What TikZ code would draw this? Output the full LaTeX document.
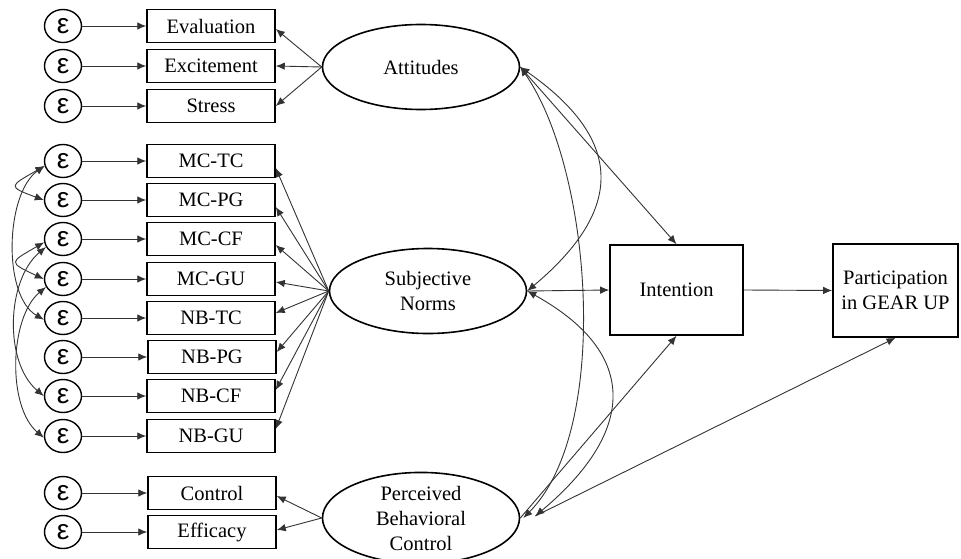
\documentclass[tikz,border=0pt]{standalone}
\usepackage{fontspec}
\setmainfont{Liberation Serif}
\newfontfamily\epsfont{Liberation Sans}
\usetikzlibrary{shapes.geometric,arrows.meta}
\begin{document}
\begin{tikzpicture}[x=1pt,y=1pt,
  every node/.style={font=\fontsize{20.5}{25}\selectfont},
  obs/.style={draw, line width=1.5pt, minimum width=128pt, minimum height=33pt, inner sep=0pt},
  err/.style={draw, ellipse, line width=1.4pt, minimum width=37pt, minimum height=33pt, inner sep=0pt, font=\epsfont\fontsize{28}{28}\selectfont},
  lat/.style={draw, ellipse, line width=1.6pt, minimum width=197pt, minimum height=85pt, inner sep=0pt, align=center},
  big/.style={draw, line width=1.6pt, inner sep=0pt, align=center},
  arr/.style={-{Latex[length=9pt,width=7.5pt]}, line width=0.9pt, draw=black!80},
  cov/.style={{Latex[length=9pt,width=7.5pt]}-{Latex[length=9pt,width=7.5pt]}, line width=0.9pt, draw=black!80}
]
\useasboundingbox (0,0) rectangle (961,-559);

% observed indicators
\node[obs] (a1) at (211,-26) {Evaluation};
\node[obs] (a2) at (211,-66) {Excitement};
\node[obs] (a3) at (211,-106) {Stress};
\node[obs] (m1) at (211,-161) {MC-TC};
\node[obs] (m2) at (211,-200) {MC-PG};
\node[obs] (m3) at (211,-239) {MC-CF};
\node[obs] (m4) at (211,-279) {MC-GU};
\node[obs] (m5) at (211,-318) {NB-TC};
\node[obs] (m6) at (212,-357) {NB-PG};
\node[obs] (m7) at (211,-396) {NB-CF};
\node[obs] (m8) at (211,-436) {NB-GU};
\node[obs] (p1) at (212,-493) {Control};
\node[obs] (p2) at (212,-532) {Efficacy};

% error terms
\foreach \n/\y in {ea1/26,ea2/66,ea3/106,e1/161,e2/200,e3/239,e4/279,e5/318,e6/357,e7/396,e8/436,ep1/493,ep2/532}
  \node[err] (\n) at (63,-\y) {ε};

% latent variables
\node[lat] (att) at (421,-67) {Attitudes};
\node[lat] (sn) at (428,-291) {Subjective\\Norms};
\node[lat] (pbc) at (421,-518) {Perceived\\Behavioral\\Control};

\node[big, minimum width=133pt, minimum height=90pt] (int) at (676.5,-290) {Intention};
\node[big, minimum width=125pt, minimum height=93pt] (part) at (895.5,-290.5) {Participation\\in GEAR UP};

% error -> indicator
\draw[arr] (ea1) -- (a1);
\draw[arr] (ea2) -- (a2);
\draw[arr] (ea3) -- (a3);
\draw[arr] (e1) -- (m1);
\draw[arr] (e2) -- (m2);
\draw[arr] (e3) -- (m3);
\draw[arr] (e4) -- (m4);
\draw[arr] (e5) -- (m5);
\draw[arr] (e6) -- (m6);
\draw[arr] (e7) -- (m7);
\draw[arr] (e8) -- (m8);
\draw[arr] (ep1) -- (p1);
\draw[arr] (ep2) -- (p2);

% loadings
\draw[arr] (att.west) -- ([yshift=-3pt]a1.east);
\draw[arr] (att.west) -- (a2.east);
\draw[arr] (att.west) -- (a3.east);
\draw[arr] (sn.west) -- ([yshift=-7pt]m1.east);
\draw[arr] (sn.west) -- ([yshift=-7pt]m2.east);
\draw[arr] (sn.west) -- ([yshift=-6pt]m3.east);
\draw[arr] (sn.west) -- ([yshift=-3pt]m4.east);
\draw[arr] (sn.west) -- ([yshift=5pt]m5.east);
\draw[arr] (sn.west) -- ([yshift=5pt]m6.east);
\draw[arr] (sn.west) -- ([yshift=6pt]m7.east);
\draw[arr] (sn.west) -- ([yshift=7pt]m8.east);
\draw[arr] (pbc.west) -- ([yshift=-3pt]p1.east);
\draw[arr] (pbc.west) -- ([yshift=2pt]p2.east);

% structural paths
\draw[arr] (att.east) -- (int.north);
\draw[arr] (sn.east) -- (int.west);
\draw[arr] (pbc.east) -- (int.south);
\draw[arr] ([xshift=15pt,yshift=2pt]pbc.east) -- (part.south);
\draw[arr] (int.east) -- (part.west);

% latent covariances
\draw[cov] (att.east) to[out=-35,in=40,distance=127pt] (sn.east);
\draw[cov] (att.east) to[out=-55,in=45,distance=125pt] ([xshift=3pt]pbc.east);
\draw[cov] (sn.east) to[out=-29,in=40,distance=130pt] ([xshift=15pt,yshift=2pt]pbc.east);

% error covariances
\draw[cov] (e1.195) to[out=210,in=160,distance=40pt] (e2.180);
\draw[cov] (e1.195) to[out=215,in=150,distance=48pt] (e5.185);
\draw[cov] (e3.190) to[out=210,in=155,distance=40pt] (e4.180);
\draw[cov] (e3.205) to[out=220,in=140,distance=52pt] (e7.180);
\draw[cov] (e4.205) to[out=220,in=140,distance=48pt] (e8.185);
\end{tikzpicture}
\end{document}
